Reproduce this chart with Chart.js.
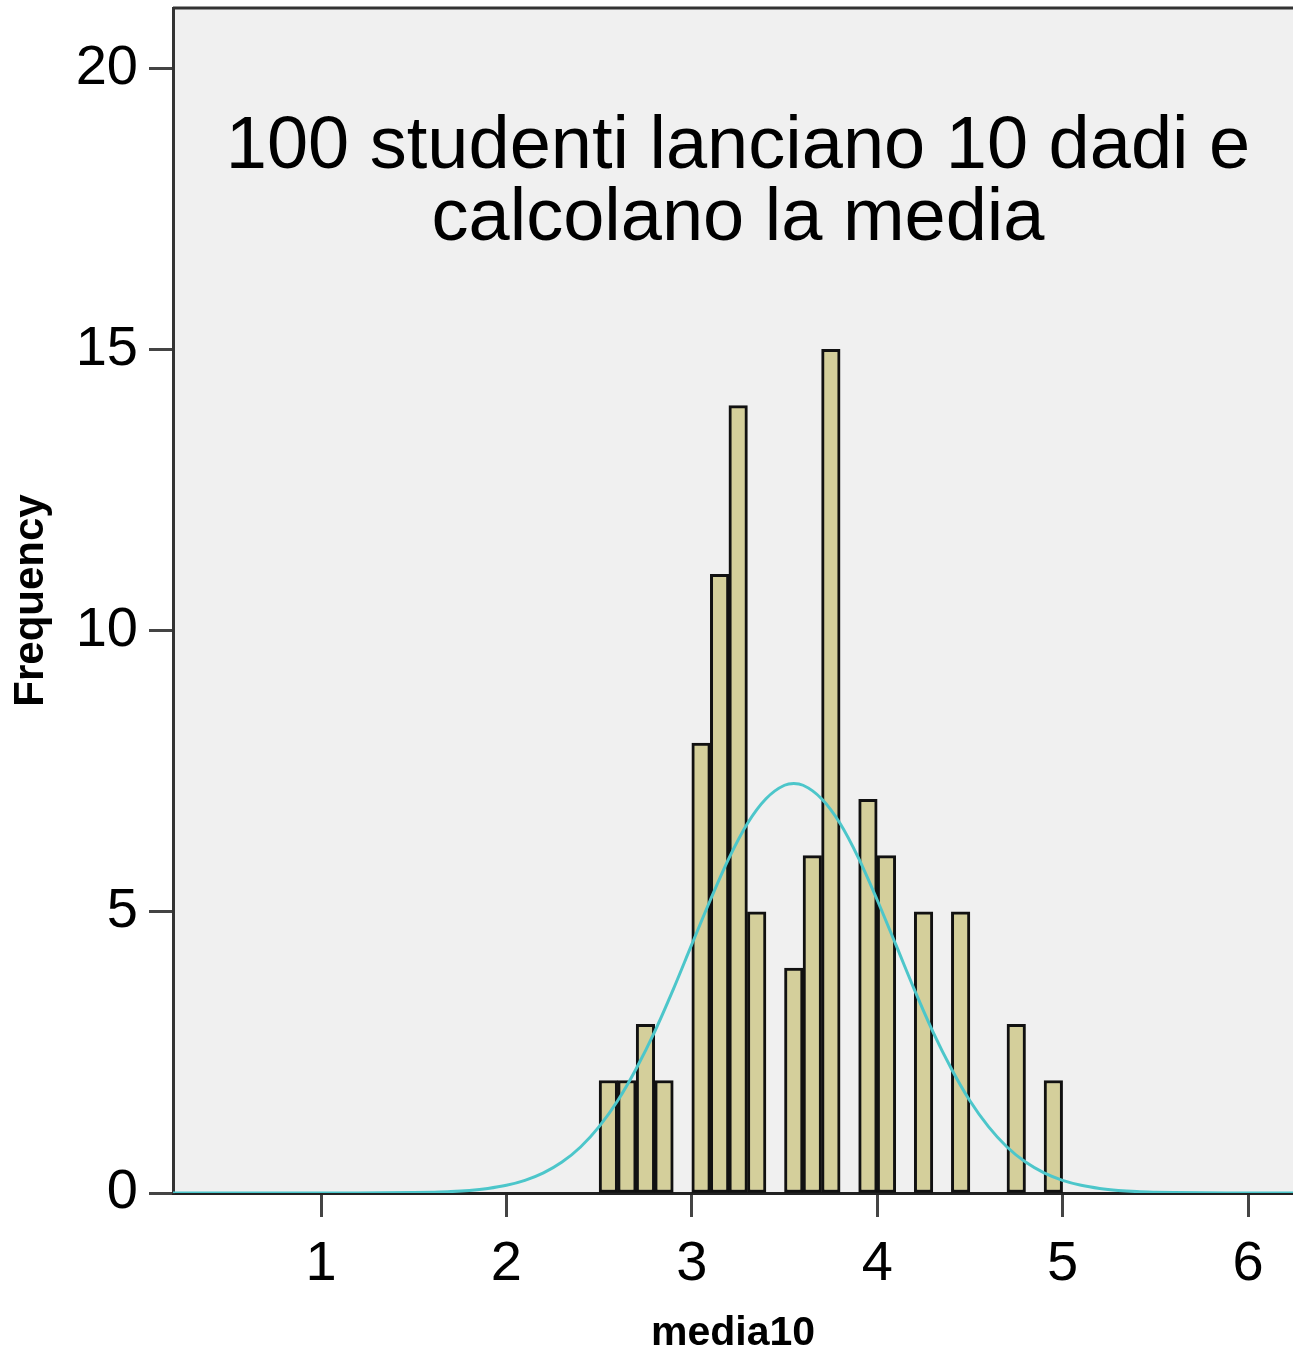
<!DOCTYPE html>
<html>
<head>
<meta charset="utf-8">
<script src="https://cdn.jsdelivr.net/npm/chart.js@4"></script>
<style>
  html, body { margin: 0; padding: 0; background: #ffffff; }
  #wrap { width: 1293px; height: 1355px; }
</style>
</head>
<body>
<div id="wrap"><canvas id="c" width="1293" height="1355"></canvas></div>
<script>
// ---- data ----
const titleLines = ["100 studenti lanciano 10 dadi e", "calcolano la media"];
const xAxisTitle = "media10";
const yAxisTitle = "Frequency";

// histogram bins (centre of each 0.1-wide bin) and frequencies
const binCenters = [2.55, 2.65, 2.75, 2.85, 3.05, 3.15, 3.25, 3.35, 3.55, 3.65, 3.75, 3.95, 4.05, 4.25, 4.45, 4.75, 4.95];
const frequencies = [2, 2, 3, 2, 8, 11, 14, 5, 4, 6, 15, 7, 6, 5, 5, 3, 2];

// normal curve, values
const curveX = [0.2, 1.2, 1.5, 1.6, 1.7, 1.8, 1.9, 2.0, 2.1, 2.2, 2.3, 2.4, 2.5, 2.6, 2.7, 2.8, 2.9, 3.0, 3.1, 3.2, 3.3, 3.4, 3.5, 3.55, 3.6, 3.7, 3.8, 3.9, 4.0, 4.1, 4.2, 4.3, 4.4, 4.5, 4.6, 4.7, 4.8, 4.9, 5.0, 5.1, 5.2, 5.3, 5.4, 5.5, 5.6, 5.9, 6.25];
const curveY = [0, 0, 0.007, 0.014, 0.025, 0.046, 0.081, 0.137, 0.225, 0.358, 0.55, 0.818, 1.18, 1.64, 2.21, 2.87, 3.62, 4.42, 5.21, 5.95, 6.57, 7.01, 7.25, 7.28, 7.25, 7.01, 6.57, 5.95, 5.21, 4.42, 3.62, 2.87, 2.21, 1.64, 1.18, 0.818, 0.55, 0.358, 0.225, 0.137, 0.081, 0.046, 0.025, 0.014, 0.007, 0, 0];

const xTicks = [1, 2, 3, 4, 5, 6];
const yTicks = [0, 5, 10, 15, 20];
const xRange = [0.2017, 6.2427];
const yRange = [0, 21.07];

// ---- build chart ----
const FONT = "'Liberation Sans', Arial, sans-serif";

const barData = binCenters.map((x, i) => ({ x: x, y: frequencies[i] }));
const curveData = curveX.map((x, i) => ({ x: x, y: curveY[i] }));

const plotFrame = {
  id: 'plotFrame',
  beforeDraw(chart) {
    const { ctx, chartArea: a } = chart;
    ctx.save();
    ctx.fillStyle = '#f0f0f0';
    ctx.fillRect(a.left, a.top, a.right - a.left, a.bottom - a.top);
    ctx.strokeStyle = '#333333';
    ctx.lineWidth = 3;
    ctx.beginPath();
    ctx.moveTo(a.left, a.top);
    ctx.lineTo(a.right, a.top);
    ctx.stroke();
    ctx.restore();
  },
  afterDatasetsDraw(chart) {
    const { ctx, chartArea: a } = chart;
    ctx.save();
    ctx.fillStyle = '#000000';
    ctx.font = '74px ' + FONT;
    ctx.textAlign = 'center';
    ctx.textBaseline = 'alphabetic';
    const cx = (a.left + a.right) / 2 + 5;
    titleLines.forEach((t, i) => {
      ctx.fillText(t, cx, a.top + 160 + i * 72);
    });
    ctx.restore();
  }
};

new Chart(document.getElementById('c'), {
  type: 'bar',
  data: {
    datasets: [
      {
        type: 'line',
        data: curveData,
        borderColor: '#4cc6ca',
        borderWidth: 3,
        pointRadius: 0,
        fill: false,
        tension: 0.4,
        cubicInterpolationMode: 'monotone',
        order: 0
      },
      {
        type: 'bar',
        data: barData,
        backgroundColor: '#d4cf9b',
        borderColor: '#111111',
        borderWidth: 3,
        borderSkipped: false,
        barPercentage: 1,
        categoryPercentage: 1,
        order: 1
      }
    ]
  },
  options: {
    responsive: false,
    animation: false,
    devicePixelRatio: 1,
    layout: { padding: { top: 8, left: 0, right: 0, bottom: 0 } },
    plugins: {
      legend: { display: false },
      tooltip: { enabled: false },
      title: { display: false }
    },
    scales: {
      x: {
        type: 'linear',
        offset: false,
        min: xRange[0],
        max: xRange[1],
        afterBuildTicks(scale) { scale.ticks = xTicks.map(v => ({ value: v })); },
        afterFit(scale) {
          scale.height = 162;
          scale.paddingLeft = 0; scale.paddingRight = 0;
          scale.paddingTop = 0; scale.paddingBottom = 0;
        },
        grid: {
          offset: false,
          drawOnChartArea: false,
          drawTicks: true,
          tickLength: 24,
          tickColor: '#444444',
          tickWidth: 3
        },
        border: { display: true, color: '#222222', width: 3 },
        ticks: {
          color: '#000000',
          font: { family: FONT, size: 56 },
          padding: 14,
          maxRotation: 0,
          autoSkip: false
        },
        title: {
          display: true,
          text: xAxisTitle,
          color: '#000000',
          font: { family: FONT, size: 41, weight: 'bold', lineHeight: 1.0 },
          padding: { top: 0, bottom: 1 }
        }
      },
      y: {
        type: 'linear',
        min: yRange[0],
        max: yRange[1],
        afterBuildTicks(scale) { scale.ticks = yTicks.map(v => ({ value: v })); },
        afterFit(scale) {
          scale.width = 173;
          scale.paddingTop = 0; scale.paddingBottom = 0;
          scale.paddingLeft = 0; scale.paddingRight = 0;
        },
        grid: {
          drawOnChartArea: false,
          drawTicks: true,
          tickLength: 24,
          tickColor: '#444444',
          tickWidth: 3
        },
        border: { display: true, color: '#333333', width: 3 },
        ticks: {
          color: '#000000',
          font: { family: FONT, size: 56 },
          padding: 11,
          autoSkip: false
        },
        title: {
          display: true,
          text: yAxisTitle,
          color: '#000000',
          font: { family: FONT, size: 42, weight: 'bold', lineHeight: 1.2 },
          padding: { top: 6, bottom: 0 }
        }
      }
    }
  },
  plugins: [plotFrame]
});
</script>
</body>
</html>
